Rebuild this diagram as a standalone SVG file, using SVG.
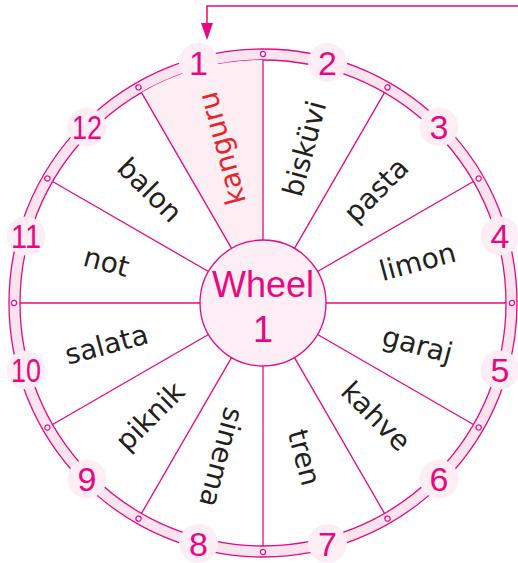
<svg xmlns="http://www.w3.org/2000/svg" width="518" height="563" viewBox="0 0 518 563">
<style>
.line{stroke:#e6097f;stroke-width:1.3;fill:none}
.dot{fill:#fff;stroke:#e6097f;stroke-width:1.2}
.numc{fill:#fdeef5}
.num{font-family:"Liberation Sans",Arial,sans-serif;font-size:34px;fill:#e6097f;text-anchor:middle}
.word{font-family:"DejaVu Sans",sans-serif;font-size:28px;fill:#231f20;text-anchor:middle}
.title{font-family:"Liberation Sans",Arial,sans-serif;font-size:36px;fill:#e6097f;text-anchor:middle}
</style>
<rect width="518" height="563" fill="#fff"/>
<g id="ring">
<circle cx="263" cy="303" r="248.5" fill="none" stroke="#fce4ef" stroke-width="11"/>
<circle cx="263" cy="303" r="254" class="line"/>
<circle cx="263" cy="303" r="243" class="line"/>
</g>
<g id="sector-1-highlight">
<path d="M263,60 A243,243 0 0 0 141.5,92.6 L231.5,248.4 A63,63 0 0 1 263,240 Z" fill="#fdeef4"/>
</g>
<g id="connectors">
<g transform="translate(263,303)" class="line">
<line x1="0" y1="-63" x2="0" y2="-243"/>
<line x1="0" y1="-63" x2="0" y2="-243" transform="rotate(30)"/>
<line x1="0" y1="-63" x2="0" y2="-243" transform="rotate(60)"/>
<line x1="0" y1="-63" x2="0" y2="-243" transform="rotate(90)"/>
<line x1="0" y1="-63" x2="0" y2="-243" transform="rotate(120)"/>
<line x1="0" y1="-63" x2="0" y2="-243" transform="rotate(150)"/>
<line x1="0" y1="-63" x2="0" y2="-243" transform="rotate(180)"/>
<line x1="0" y1="-63" x2="0" y2="-243" transform="rotate(210)"/>
<line x1="0" y1="-63" x2="0" y2="-243" transform="rotate(240)"/>
<line x1="0" y1="-63" x2="0" y2="-243" transform="rotate(270)"/>
<line x1="0" y1="-63" x2="0" y2="-243" transform="rotate(300)"/>
<line x1="0" y1="-63" x2="0" y2="-243" transform="rotate(330)"/>
</g>
<g transform="translate(263,303)">
<circle cx="0" cy="-249" r="2.6" class="dot"/>
<circle cx="0" cy="-249" r="2.6" class="dot" transform="rotate(30)"/>
<circle cx="0" cy="-249" r="2.6" class="dot" transform="rotate(60)"/>
<circle cx="0" cy="-249" r="2.6" class="dot" transform="rotate(90)"/>
<circle cx="0" cy="-249" r="2.6" class="dot" transform="rotate(120)"/>
<circle cx="0" cy="-249" r="2.6" class="dot" transform="rotate(150)"/>
<circle cx="0" cy="-249" r="2.6" class="dot" transform="rotate(180)"/>
<circle cx="0" cy="-249" r="2.6" class="dot" transform="rotate(210)"/>
<circle cx="0" cy="-249" r="2.6" class="dot" transform="rotate(240)"/>
<circle cx="0" cy="-249" r="2.6" class="dot" transform="rotate(270)"/>
<circle cx="0" cy="-249" r="2.6" class="dot" transform="rotate(300)"/>
<circle cx="0" cy="-249" r="2.6" class="dot" transform="rotate(330)"/>
</g>
<path d="M518,6 H207 V26" stroke="#e6097f" stroke-width="1.5" fill="none"/>
<polygon points="201,23 213,23 207,40" fill="#e6097f"/>
</g>
<g id="center">
<circle cx="263" cy="303" r="63" fill="#fdeef5" stroke="#e6097f" stroke-width="1.3"/>
<text x="263" y="297" class="title">Wheel</text>
<text x="263" y="342" class="title">1</text>
</g>
<g id="n1"><circle cx="198.5" cy="62.5" r="19.5" class="numc"/><text x="198.5" y="74.5" class="num">1</text></g>
<g id="n2"><circle cx="327.5" cy="62.5" r="19.5" class="numc"/><text x="327.5" y="74.5" class="num">2</text></g>
<g id="n3"><circle cx="439" cy="127" r="19.5" class="numc"/><text x="439" y="139" class="num">3</text></g>
<g id="n4"><circle cx="500" cy="236" r="19.5" class="numc"/><text x="500" y="248" class="num">4</text></g>
<g id="n5"><circle cx="500" cy="370" r="19.5" class="numc"/><text x="500" y="382" class="num">5</text></g>
<g id="n6"><circle cx="439" cy="479" r="19.5" class="numc"/><text x="439" y="491" class="num">6</text></g>
<g id="n7"><circle cx="327.5" cy="543.5" r="19.5" class="numc"/><text x="327.5" y="555.5" class="num">7</text></g>
<g id="n8"><circle cx="198.5" cy="543.5" r="19.5" class="numc"/><text x="198.5" y="555.5" class="num">8</text></g>
<g id="n9"><circle cx="87" cy="479" r="19.5" class="numc"/><text x="87" y="491" class="num">9</text></g>
<g id="n10"><circle cx="26" cy="370" r="19.5" class="numc"/><text x="26" y="382" class="num" textLength="30" lengthAdjust="spacingAndGlyphs">10</text></g>
<g id="n11"><circle cx="26" cy="236" r="19.5" class="numc"/><text x="26" y="248" class="num" textLength="30" lengthAdjust="spacingAndGlyphs">11</text></g>
<g id="n12"><circle cx="87" cy="127" r="19.5" class="numc"/><text x="87" y="139" class="num" textLength="30" lengthAdjust="spacingAndGlyphs">12</text></g>
<g id="w1"><text class="word" style="fill:#e8232a" transform="translate(221.6,148.5) rotate(-105)" dy="0.35em">kanguru</text></g>
<g id="w2"><text class="word" transform="translate(304.4,148.5) rotate(-75)" dy="0.35em">bisküvi</text></g>
<g id="w3"><text class="word" transform="translate(376.1,189.9) rotate(-45)" dy="0.35em">pasta</text></g>
<g id="w4"><text class="word" transform="translate(417.5,261.6) rotate(-15)" dy="0.35em">limon</text></g>
<g id="w5"><text class="word" transform="translate(417.5,344.4) rotate(15)" dy="0.35em">garaj</text></g>
<g id="w6"><text class="word" transform="translate(376.1,416.1) rotate(45)" dy="0.35em">kahve</text></g>
<g id="w7"><text class="word" transform="translate(304.4,457.5) rotate(75)" dy="0.35em">tren</text></g>
<g id="w8"><text class="word" transform="translate(221.6,457.5) rotate(105)" dy="0.35em">sinema</text></g>
<g id="w9"><text class="word" transform="translate(149.9,416.1) rotate(-45)" dy="0.35em">piknik</text></g>
<g id="w10"><text class="word" transform="translate(106.5,344.4) rotate(-15)" dy="0.35em">salata</text></g>
<g id="w11"><text class="word" transform="translate(106.5,261.6) rotate(15)" dy="0.35em">not</text></g>
<g id="w12"><text class="word" transform="translate(149.9,189.9) rotate(45)" dy="0.35em">balon</text></g>
</svg>
